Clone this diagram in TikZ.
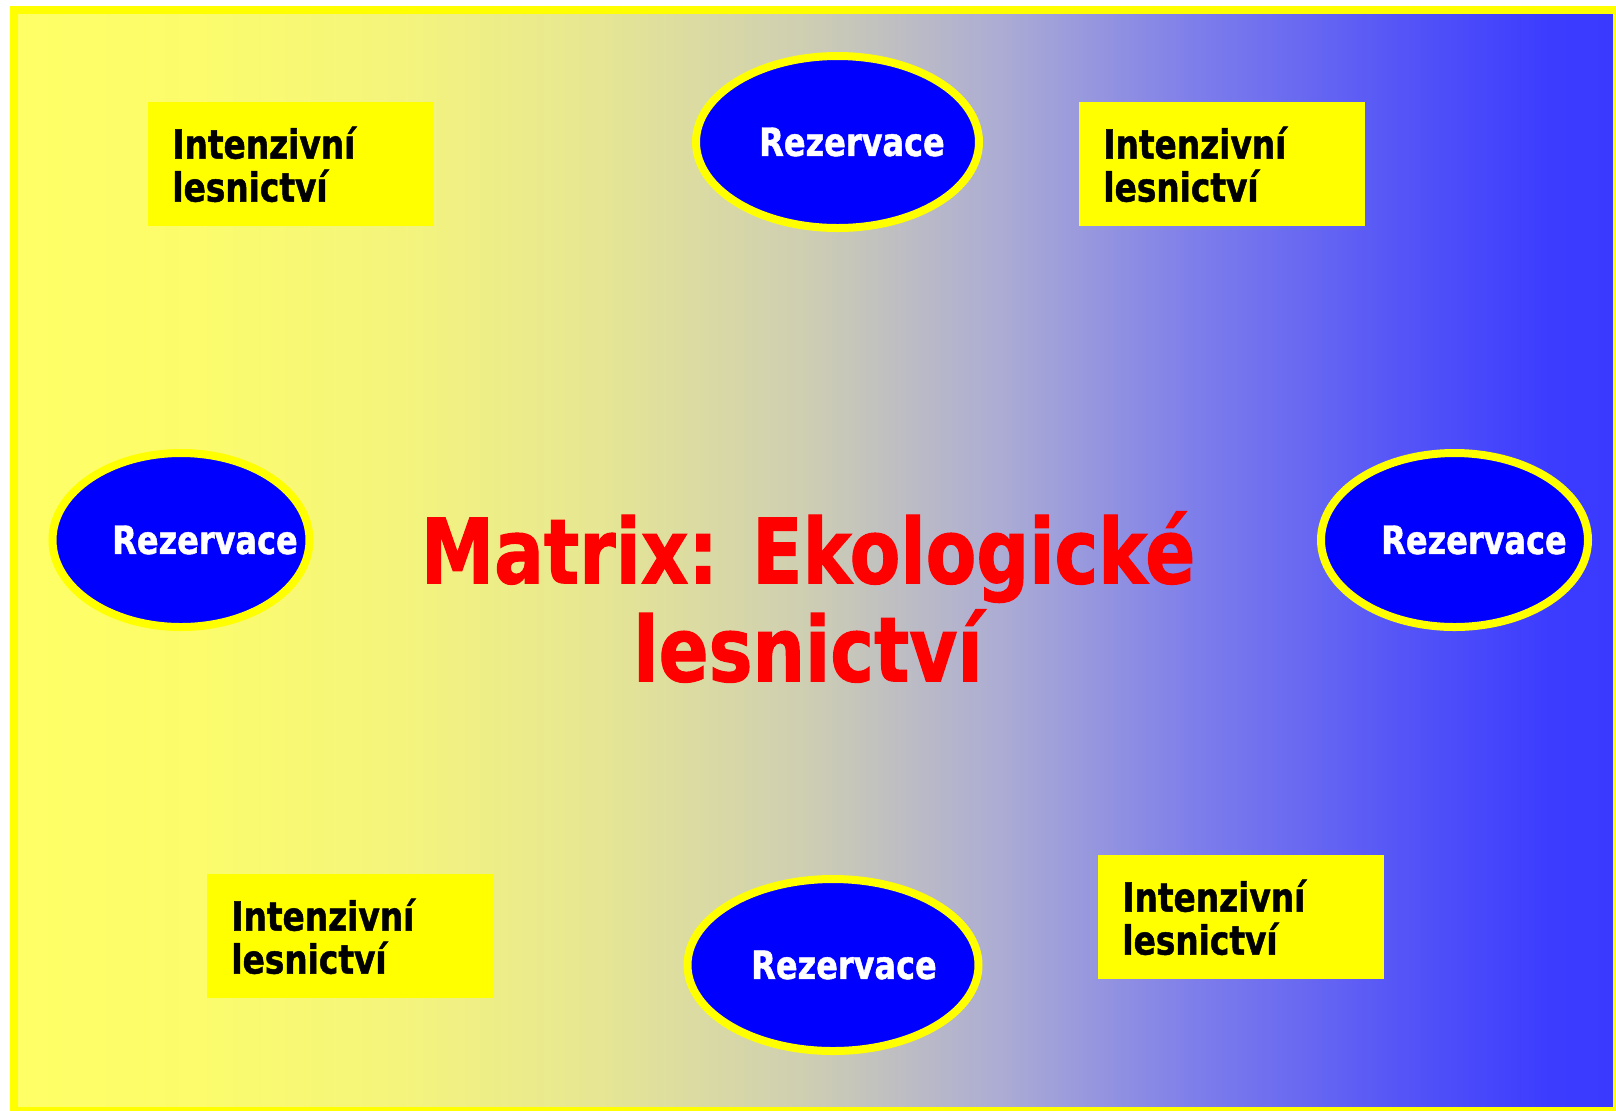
\documentclass[tikz,border=0pt]{standalone}
\usepackage{fontspec}
\setmainfont{DejaVu Sans}[FakeStretch=0.82, BoldFeatures={FakeBold=1.2}]
\usetikzlibrary{shapes.geometric, positioning}
\newdimen\pxu \pxu=0.02cm
\definecolor{bgA}{RGB}{255,255,102}
\definecolor{bgB}{RGB}{252,252,108}
\definecolor{bgC}{RGB}{244,244,125}
\definecolor{bgD}{RGB}{230,230,148}
\definecolor{bgE}{RGB}{207,207,178}
\definecolor{bgF}{RGB}{172,172,212}
\definecolor{bgG}{RGB}{125,125,235}
\definecolor{bgH}{RGB}{85,85,247}
\definecolor{bgI}{RGB}{60,60,255}
\definecolor{bgJ}{RGB}{58,58,255}
\definecolor{rezblue}{RGB}{0,0,255}
\definecolor{lesyellow}{RGB}{255,255,0}
\pgfdeclarehorizontalshading{matrixbg}{100bp}{color(0bp)=(bgA); color(25bp)=(bgA); color(30.5bp)=(bgB); color(37bp)=(bgC); color(43.25bp)=(bgD); color(49.5bp)=(bgE); color(55.8bp)=(bgF); color(62bp)=(bgG); color(68.3bp)=(bgH); color(73bp)=(bgI); color(75bp)=(bgJ); color(100bp)=(bgJ)}

\begin{document}
\begin{tikzpicture}[x=0.02cm, y=-0.02cm,
	rez/.style={ellipse, draw=lesyellow, line width=8*\pxu, fill=rezblue, inner sep=0pt},
	rezlbl/.style={text=white, inner sep=0pt, font={\fontsize{22.2}{24}\selectfont\bfseries}},
	intbox/.style={rectangle, fill=lesyellow, anchor=north west, minimum width=286*\pxu, minimum height=124*\pxu, inner xsep=24*\pxu, inner ysep=0pt, text width=238*\pxu, align=left, font={\fontsize{22.76}{24.47}\selectfont\bfseries}},
	mattitle/.style={text=red, align=center, font={\fontsize{51.2}{55.8}\selectfont\bfseries}}]
	\clip (0,0) rectangle (1616,1110);
	\shade[shading=matrixbg] (18,14) rectangle (1613,1107);
	\draw[lesyellow, line width=8*\pxu] (14,10) rectangle (1617,1111);

	\node[intbox] (intTL) at (148,102) {Intenzivní\\lesnictví};
	\node[intbox] (intTR) at (1079,102) {Intenzivní\\lesnictví};
	\node[intbox] (intBL) at (207,874) {Intenzivní\\lesnictví};
	\node[intbox] (intBR) at (1098,855) {Intenzivní\\lesnictví};

	\node[rez, minimum width=283*\pxu, minimum height=172*\pxu, label={[rezlbl, xshift=14.5*\pxu]center:Rezervace}] (rezN) at (837.5,142) {};
	\node[rez, minimum width=257*\pxu, minimum height=174*\pxu, label={[rezlbl, xshift=24*\pxu]center:Rezervace}] (rezW) at (181,540) {};
	\node[rez, minimum width=267*\pxu, minimum height=174*\pxu, label={[rezlbl, xshift=19.5*\pxu]center:Rezervace}] (rezE) at (1454.5,540) {};
	\node[rez, minimum width=291*\pxu, minimum height=172*\pxu, label={[rezlbl, xshift=11*\pxu]center:Rezervace}] (rezS) at (833,965) {};

	\node[mattitle] (matrix) at (808,597) {Matrix: Ekologické\\lesnictví};
\end{tikzpicture}
\end{document}
